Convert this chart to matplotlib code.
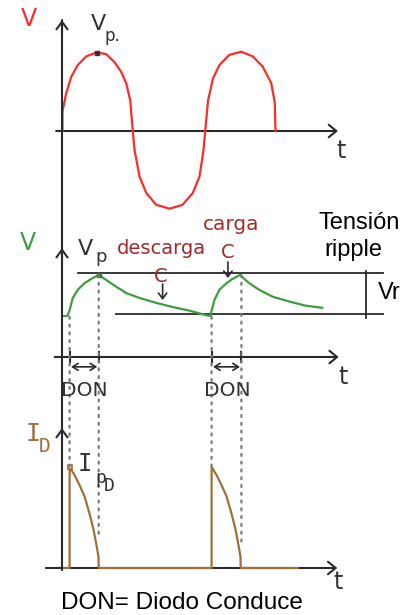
import matplotlib
matplotlib.use("Agg")
import matplotlib.pyplot as plt
from matplotlib.patches import ConnectionPatch

# ---------------- data ----------------
# time in units of a half period of the input sine
t_sine = [0.0, 0.0, 0.052, 0.123, 0.215, 0.334, 0.475, 0.615, 0.73, 0.826, 0.897, 0.954, 0.99,
          1.014, 1.085, 1.18, 1.32, 1.51, 1.69, 1.835, 1.93, 1.986, 2.01,
          2.05, 2.12, 2.21, 2.35, 2.52, 2.68, 2.82, 2.94, 2.99, 3.0]
v_sine = [0.0, 0.25, 0.48, 0.69, 0.84, 0.95, 1.0, 0.98, 0.88, 0.755, 0.61, 0.39, 0.0,
          -0.24, -0.58, -0.79, -0.94, -0.99, -0.94, -0.79, -0.58, -0.24, 0.0,
          0.39, 0.67, 0.84, 0.97, 1.01, 0.95, 0.82, 0.61, 0.36, 0.0]

# filtered (capacitor) voltage, in units of Vp
t_out = [0.0, 0.07, 0.10, 0.145, 0.215, 0.31, 0.42, 0.507, 0.615, 0.756, 0.897, 1.085,
         1.32, 1.55, 1.79, 2.02, 2.08, 2.14, 2.21, 2.31, 2.39, 2.50, 2.63, 2.77, 2.96,
         3.20, 3.43, 3.66]
v_out = [0.50, 0.50, 0.57, 0.72, 0.82, 0.90, 0.96, 1.0, 0.94, 0.857, 0.78, 0.72,
         0.66, 0.61, 0.565, 0.51, 0.50, 0.695, 0.82, 0.90, 0.95, 1.0, 0.90, 0.82, 0.735,
         0.675, 0.625, 0.60]

# diode current, in units of I_pD
t_id = [0.0, 0.10, 0.10, 0.17, 0.24, 0.31, 0.38, 0.437, 0.483, 0.507, 0.51,
        2.10, 2.10, 2.17, 2.24, 2.31, 2.38, 2.437, 2.483, 2.507, 2.51, 3.31]
i_d = [0.0, 0.0, 1.0, 0.92, 0.82, 0.71, 0.54, 0.38, 0.21, 0.11, 0.0,
       0.0, 1.0, 0.92, 0.82, 0.71, 0.54, 0.38, 0.21, 0.11, 0.0, 0.0]

# diode conduction intervals (DON)
don_on = [0.10, 2.10]
don_off = [0.51, 2.52]
don_off_current = [0.30, 0.25]   # where the dotted guides end on the current curve

v_ripple_top = 1.02
v_ripple_bot = 0.52
ripple_top_span = [0.22, 4.51]
ripple_bot_span = [0.75, 4.51]
t_vr = 4.27

# ---------------- figure ----------------
W, H = 408, 615
fig = plt.figure(figsize=(W / 100, H / 100), dpi=100)
fig.patch.set_facecolor("white")

X0_PX, T_UNIT_PX = 62.5, 71.0
XLIM = (-X0_PX / T_UNIT_PX, (W - X0_PX) / T_UNIT_PX)


def panel(top_px, bot_px, zero_px, unit_px):
    ax = fig.add_axes([0, 1 - bot_px / H, 1, (bot_px - top_px) / H])
    ax.set_xlim(*XLIM)
    ax.set_ylim((zero_px - bot_px) / unit_px, (zero_px - top_px) / unit_px)
    ax.axis("off")
    return ax


ax_top = panel(0, 225, 131, 78.5)
ax_mid = panel(225, 400, 357, 82)
ax_bot = panel(400, 615, 568, 101)

AX_C = "#2a2a2a"
AX_LW = 1.5
RED = "#ff2b2b"
GREEN = "#3f9d3f"
BROWN = "#a0703a"
DRED = "#a32a2a"
LBL = "#333333"


def fx(x):
    return x / W


def fy(y):
    return 1 - y / H


def haxis(ax, t0, t1):
    ax.annotate("", xy=(t1, 0), xytext=(t0, 0),
                arrowprops=dict(arrowstyle="->,head_length=0.55,head_width=0.45",
                                color=AX_C, lw=AX_LW, mutation_scale=10,
                                shrinkA=0, shrinkB=0))


def vchevron(ax, y_tip, dy):
    ax.annotate("", xy=(-0.007, y_tip), xytext=(-0.007, y_tip - dy),
                arrowprops=dict(arrowstyle="->,head_length=0.55,head_width=0.4",
                                color=AX_C, lw=AX_LW, mutation_scale=10,
                                shrinkA=0, shrinkB=0))


# continuous vertical axis (top arrow to bottom panel)
top_tip = (131 - 20) / 78.5
con = ConnectionPatch(xyA=(-0.007, top_tip), coordsA=ax_top.transData,
                      xyB=(-0.007, (568 - 570) / 101), coordsB=ax_bot.transData,
                      color=AX_C, lw=AX_LW, zorder=3)
fig.add_artist(con)
vchevron(ax_top, top_tip, 0.2)
vchevron(ax_mid, (357 - 248) / 82, 0.2)
vchevron(ax_bot, (568 - 428) / 101, 0.15)

# ---------------- top panel: input sine ----------------
haxis(ax_top, -0.09, 3.88)
ax_top.plot(t_sine, v_sine, color=RED, lw=1.6, zorder=4)
ax_top.plot([0.48], [1.0], marker="s", ms=3.5, color="#333333", zorder=5)

# ---------------- middle panel: filtered voltage ----------------
haxis(ax_mid, -0.11, 3.89)
ax_mid.plot(ripple_top_span, [v_ripple_top] * 2, color=AX_C, lw=1.3)
ax_mid.plot(ripple_bot_span, [v_ripple_bot] * 2, color=AX_C, lw=1.3)
ax_mid.plot([t_vr, t_vr], [v_ripple_top + 0.03, v_ripple_bot - 0.04], color=AX_C, lw=1.3)
ax_mid.plot(t_out, v_out, color=GREEN, lw=1.6, zorder=4)
ax_mid.plot([don_off[0]], [1.0], marker="s", ms=3, color="#2f7a2f", zorder=5)

# ticks at DON edges, double arrows
for a, b in zip(don_on, don_off):
    for tt in (a, b):
        ax_mid.plot([tt, tt], [0.06, -0.06], color=AX_C, lw=1.5)
    ax_mid.annotate("", xy=(b - 0.02, -0.12), xytext=(a + 0.02, -0.12),
                    arrowprops=dict(arrowstyle="<->,head_length=0.4,head_width=0.25",
                                    color=AX_C, lw=1.2, mutation_scale=10,
                                    shrinkA=0, shrinkB=0))

# dotted guides from voltage to current
dot_kw = dict(color="#7a7a7a", lw=1.6, linestyle=(0, (0.9, 2.6)), zorder=2)
for k in range(2):
    con = ConnectionPatch(xyA=(don_on[k], v_ripple_bot - 0.03), coordsA=ax_mid.transData,
                          xyB=(don_on[k], 1.0), coordsB=ax_bot.transData, **dot_kw)
    fig.add_artist(con)
    con = ConnectionPatch(xyA=(don_off[k], 1.0), coordsA=ax_mid.transData,
                          xyB=(don_off[k], don_off_current[k]), coordsB=ax_bot.transData, **dot_kw)
    fig.add_artist(con)

# ---------------- bottom panel: diode current ----------------
ax_bot.annotate("", xy=(3.87, 0), xytext=(-0.235, 0),
                arrowprops=dict(arrowstyle="->,head_length=0.55,head_width=0.45",
                                color=AX_C, lw=AX_LW, mutation_scale=10,
                                shrinkA=0, shrinkB=0))
ax_bot.plot(t_id, i_d, color=BROWN, lw=1.6, zorder=4)
ax_bot.plot([don_on[0]], [1.0], marker="s", ms=3.5, mfc="white", mec=BROWN, mew=1.2, zorder=5)

# ---------------- labels ----------------
hand = "DejaVu Sans"
mono = "DejaVu Sans Mono"
sans = "Liberation Sans"
fig.text(fx(29), fy(19), "V", color=RED, fontsize=17, ha="center", va="center", family=hand)
fig.text(fx(91), fy(24), "V", color=LBL, fontsize=16, ha="left", va="center", family=hand)
fig.text(fx(104), fy(36), "p.", color=LBL, fontsize=12, ha="left", va="center", family=hand)
fig.text(fx(341), fy(151), "t", color=LBL, fontsize=17, ha="center", va="center", family=hand)

fig.text(fx(28), fy(243), "V", color=GREEN, fontsize=17, ha="center", va="center", family=hand)
fig.text(fx(78), fy(249), "V", color=LBL, fontsize=16, ha="left", va="center", family=hand)
fig.text(fx(95), fy(257), "p", color=LBL, fontsize=13, ha="left", va="center", family=hand)
fig.text(fx(161), fy(248), "descarga", color=DRED, fontsize=14, ha="center", va="center", family=hand)
fig.text(fx(161), fy(276), "C", color=DRED, fontsize=14, ha="center", va="center", family=hand)
fig.text(fx(231), fy(224), "carga", color=DRED, fontsize=14.5, ha="center", va="center", family=hand)
fig.text(fx(228), fy(253), "C", color=DRED, fontsize=14, ha="center", va="center", family=hand)
fig.text(fx(359), fy(223), "Tensión", color="black", fontsize=17, ha="center", va="center",
         family=sans)
fig.text(fx(353), fy(250), "ripple", color="black", fontsize=17, ha="center", va="center",
         family=sans)
fig.text(fx(389), fy(293), "Vr", color="black", fontsize=17, ha="center", va="center",
         family=sans)
fig.text(fx(343), fy(377), "t", color=LBL, fontsize=17, ha="center", va="center", family=hand)
for a, b in zip(don_on, don_off):
    xm = X0_PX + T_UNIT_PX * (a + b) / 2
    fig.text(fx(xm + 0.5), fy(390), "DON", color=LBL, fontsize=14.5, ha="center", va="center",
             family=hand)

# small down arrows to "C"
ax_mid.annotate("", xy=(1.41, (357 - 300) / 82), xytext=(1.41, (357 - 284) / 82),
                arrowprops=dict(arrowstyle="->,head_length=0.4,head_width=0.3", color=AX_C,
                                lw=1.2, mutation_scale=10, shrinkA=0, shrinkB=0))
ax_mid.annotate("", xy=(2.33, (357 - 278) / 82), xytext=(2.33, (357 - 262) / 82),
                arrowprops=dict(arrowstyle="->,head_length=0.4,head_width=0.3", color=AX_C,
                                lw=1.2, mutation_scale=10, shrinkA=0, shrinkB=0))

fig.text(fx(26), fy(434), "I", color=BROWN, fontsize=18, ha="left", va="center", family=mono)
fig.text(fx(39), fy(446), "D", color=BROWN, fontsize=14, ha="left", va="center", family=mono)
fig.text(fx(78), fy(464), "I", color=LBL, fontsize=17, ha="left", va="center", family=mono)
fig.text(fx(95), fy(478), "p", color=LBL, fontsize=13, ha="left", va="center", family=mono)
fig.text(fx(104), fy(486), "D", color=LBL, fontsize=13, ha="left", va="center", family=mono)
fig.text(fx(338), fy(582), "t", color=LBL, fontsize=17, ha="center", va="center", family=hand)

fig.text(fx(182), fy(603), "DON= Diodo Conduce", color="black", fontsize=17.5, ha="center",
         va="center", family=sans)

fig.savefig("out.png", dpi=100, facecolor="white")
